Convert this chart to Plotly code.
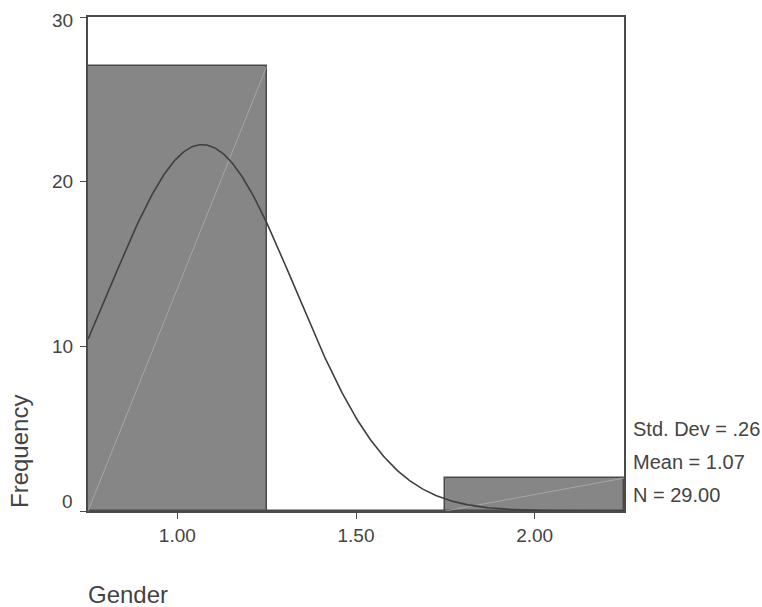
import numpy as np
import plotly.graph_objects as go

# Histogram of Gender (bin width 0.5)
bin_centers = [1.00, 1.50, 2.00]
bin_counts = [27, 0, 2]
bin_width = 0.5

# Summary statistics
n_obs = 29
mean_val = 1.07
std_dev = 0.26
stat_lines = ["Std. Dev = .26", "Mean = 1.07", "N = 29.00"]

x_ticks = [1.00, 1.50, 2.00]
x_tick_text = ["1.00", "1.50", "2.00"]
y_ticks = [0, 10, 20, 30]
y_tick_text = ["0", "10", "20", "30"]
y_label_nudge = [10, 0, 0, -3]   # end labels pulled inward, in px

X_MIN, X_MAX = 0.75, 2.25
Y_MIN, Y_MAX = 0, 30

TEXT = "#444444"
FONT = "Liberation Sans, Arial, sans-serif"

fig = go.Figure()

fig.add_trace(go.Bar(
    x=bin_centers, y=bin_counts, width=bin_width,
    marker=dict(color="#868686", line=dict(color="#4a4a4a", width=1.5)),
    hoverinfo="skip", showlegend=False,
))

# faint diagonal across each bar, bottom-left to top-right
for c, h in zip(bin_centers, bin_counts):
    if h > 0:
        fig.add_trace(go.Scatter(
            x=[c - bin_width / 2, c + bin_width / 2], y=[0, h],
            mode="lines", line=dict(color="#b4b4b4", width=0.7),
            hoverinfo="skip", showlegend=False,
        ))

# fitted normal curve scaled to counts
xs = np.linspace(X_MIN, X_MAX, 400)
ys = n_obs * bin_width / (std_dev * np.sqrt(2 * np.pi)) * np.exp(-0.5 * ((xs - mean_val) / std_dev) ** 2)
fig.add_trace(go.Scatter(
    x=xs, y=ys, mode="lines", line=dict(color="#404040", width=1.6),
    hoverinfo="skip", showlegend=False,
))

W, H = 762, 607
L, R, T, B = 88, 138, 17, 96
plot_h = H - T - B


def py(pix):
    return (H - B - pix) / plot_h


def px(pix):
    return (pix - L) / (W - L - R)


annotations = []
for txt, yc in zip(stat_lines, [429, 461.7, 495]):
    annotations.append(dict(
        text=txt, xref="paper", yref="paper", x=px(631), y=py(yc),
        xanchor="left", yanchor="middle", showarrow=False,
        font=dict(size=20, color=TEXT, family=FONT),
    ))
# y tick labels
for v, txt, dy in zip(y_ticks, y_tick_text, y_label_nudge):
    annotations.append(dict(
        text=txt, xref="paper", yref="y", x=px(75), y=v, yshift=dy,
        xanchor="right", yanchor="middle", showarrow=False,
        font=dict(size=19, color=TEXT, family=FONT),
    ))
annotations.append(dict(
    text="Gender", xref="paper", yref="paper", x=px(86), y=py(594),
    xanchor="left", yanchor="middle", showarrow=False,
    font=dict(size=24, color=TEXT, family=FONT),
))
annotations.append(dict(
    text="Frequency", xref="paper", yref="paper", x=px(19), y=py(452),
    xanchor="center", yanchor="middle", showarrow=False, textangle=-90,
    font=dict(size=24, color=TEXT, family=FONT),
))

fig.update_layout(
    width=W, height=H,
    margin=dict(l=L, r=R, t=T, b=B, pad=0),
    paper_bgcolor="white", plot_bgcolor="white",
    bargap=0,
    font=dict(family=FONT, color=TEXT, size=19),
    annotations=annotations,
    xaxis=dict(
        range=[X_MIN, X_MAX], tickvals=x_ticks, ticktext=x_tick_text,
        showgrid=False, zeroline=False,
        showline=True, mirror=True, linecolor="#4a4a4a", linewidth=1.5,
        ticks="outside", ticklen=6, tickcolor="#4a4a4a", tickwidth=1,
        tickfont=dict(size=19, color=TEXT, family=FONT),
    ),
    yaxis=dict(
        range=[Y_MIN, Y_MAX], tickvals=y_ticks, showticklabels=False,
        showgrid=False, zeroline=False,
        showline=True, mirror=True, linecolor="#4a4a4a", linewidth=1.5,
        ticks="outside", ticklen=6, tickcolor="#4a4a4a", tickwidth=1,
    ),
)

fig.write_html("out.html")
